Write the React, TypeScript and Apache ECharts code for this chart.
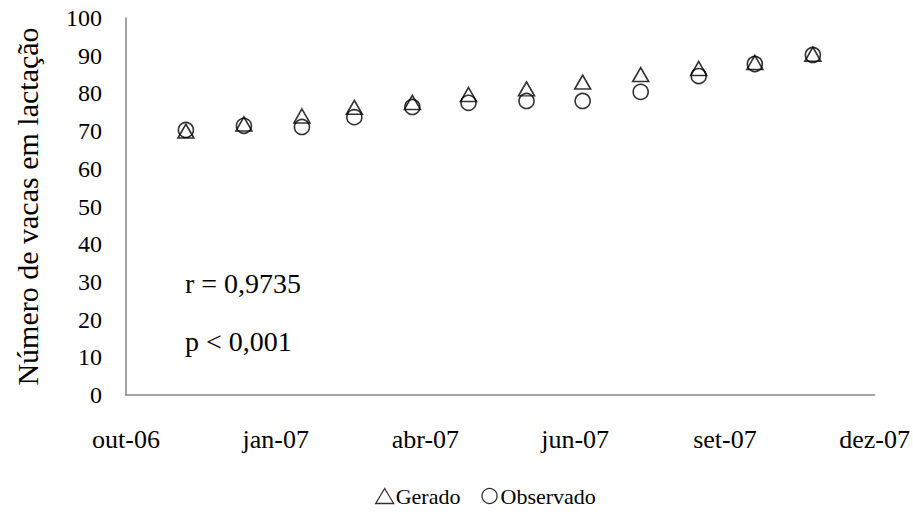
import React, { useEffect, useRef } from "react";
import * as echarts from "echarts";

const axisStart = "2006-10-30";
const dates = [
  "2006-12-01", "2007-01-01", "2007-02-01", "2007-03-01", "2007-04-01", "2007-05-01",
  "2007-06-01", "2007-07-01", "2007-08-01", "2007-09-01", "2007-10-01", "2007-11-01",
];
const gerado = [70.0, 71.9, 74.0, 76.3, 77.6, 79.7, 81.2, 83.0, 85.0, 86.6, 88.2, 90.4];
const observado = [70.3, 71.4, 71.1, 73.7, 76.4, 77.5, 78.0, 78.0, 80.4, 84.6, 87.8, 90.2];
const xTickLabels = ["out-06", "jan-07", "abr-07", "jun-07", "set-07", "dez-07"];
const xTickStepDays = 80;
const yTitle = "Número de vacas em lactação";
const annotR = "r = 0,9735";
const annotP = "p < 0,001";

const FONT = '"Liberation Serif", "Times New Roman", serif';

function dayOffset(d: string): number {
  return Math.round((Date.parse(d) - Date.parse(axisStart)) / 86400000);
}

export default function App() {
  const ref = useRef<HTMLDivElement>(null);
  useEffect(() => {
    if (!ref.current) return;
    const chart = echarts.init(ref.current, undefined, { renderer: "svg" });
    const markerStyle = { color: "transparent", borderColor: "#000", borderWidth: 1.6 };
    chart.setOption({
      animation: false,
      backgroundColor: "#fff",
      grid: { left: 126, right: 35, top: 18, bottom: 121 },
      xAxis: {
        type: "value",
        min: 0,
        max: xTickStepDays * (xTickLabels.length - 1),
        interval: xTickStepDays,
        axisLine: { show: true, lineStyle: { color: "#868686", width: 1.5 } },
        axisTick: { show: false },
        splitLine: { show: false },
        axisLabel: {
          margin: 31,
          fontFamily: FONT,
          fontSize: 26,
          color: "#000",
          formatter: (v: number) => xTickLabels[Math.round(v / xTickStepDays)] ?? "",
        },
      },
      yAxis: {
        type: "value",
        min: 0,
        max: 100,
        interval: 10,
        axisLine: { show: true, lineStyle: { color: "#868686", width: 1.5 } },
        axisTick: { show: false },
        splitLine: { show: false },
        axisLabel: {
          margin: 24,
          fontFamily: FONT,
          fontSize: 24,
          color: "#000",
          padding: [4, 0, 0, 0],
        },
        name: yTitle,
        nameLocation: "middle",
        nameGap: 84,
        nameTextStyle: { fontFamily: FONT, fontSize: 30, color: "#000" },
      },
      legend: {
        top: 484,
        left: 375,
        padding: 0,
        itemWidth: 18,
        itemHeight: 15,
        itemGap: 21,
        textStyle: {
          fontFamily: FONT,
          fontSize: 22,
          lineHeight: 24,
          color: "#000",
          padding: [0, 0, 0, -3],
        },
        data: [
          { name: "Gerado", icon: "triangle", itemStyle: { ...markerStyle, borderWidth: 1.3 } },
          { name: "Observado", icon: "circle", itemStyle: { ...markerStyle, borderWidth: 1.3 } },
        ],
      },
      series: [
        {
          name: "Gerado",
          type: "scatter",
          symbol: "triangle",
          symbolSize: [16, 14],
          itemStyle: markerStyle,
          data: dates.map((d, i) => [dayOffset(d), gerado[i]]),
        },
        {
          name: "Observado",
          type: "scatter",
          symbol: "circle",
          symbolSize: 15,
          itemStyle: markerStyle,
          data: dates.map((d, i) => [dayOffset(d), observado[i]]),
        },
      ],
      graphic: [
        {
          type: "text",
          left: 185,
          top: 269,
          style: { text: annotR, font: `28px ${FONT}`, fill: "#000" },
        },
        {
          type: "text",
          left: 185,
          top: 327,
          style: { text: annotP, font: `28px ${FONT}`, fill: "#000" },
        },
      ],
    });
    return () => chart.dispose();
  }, []);
  return (
    <div
      ref={ref}
      style={{ position: "fixed", left: 0, top: 0, width: 913, height: 516, background: "#fff" }}
    />
  );
}
